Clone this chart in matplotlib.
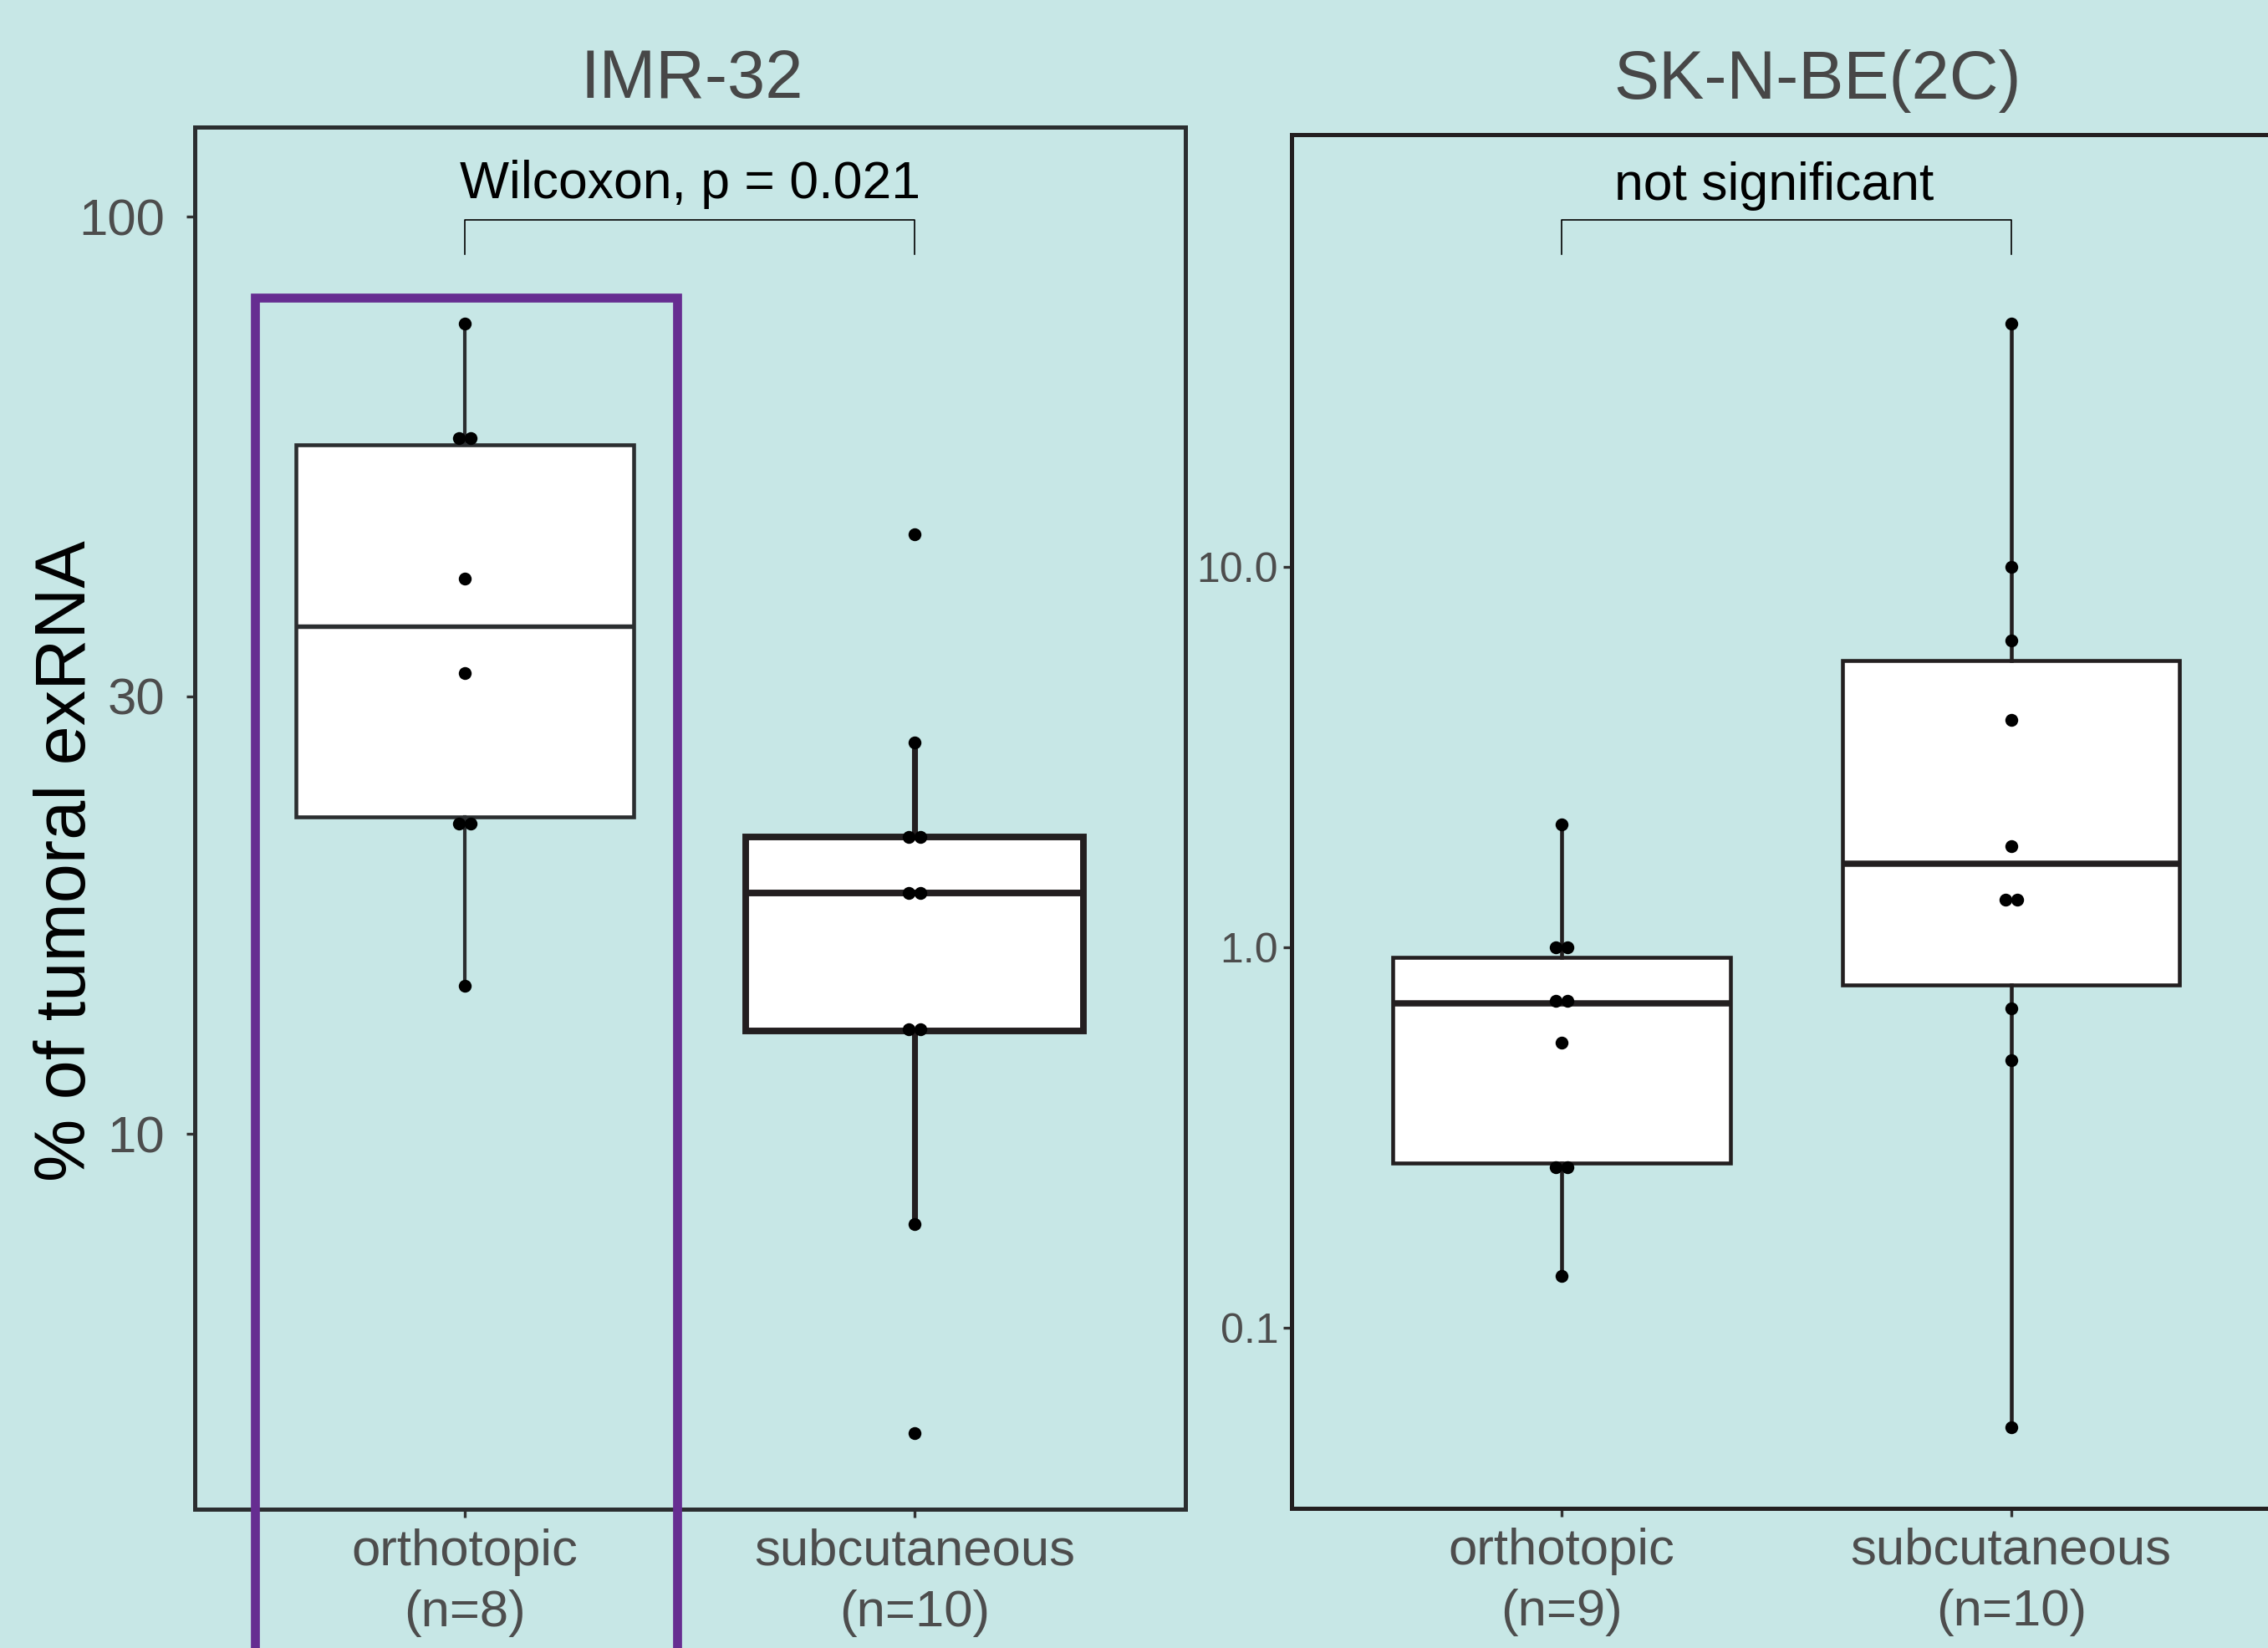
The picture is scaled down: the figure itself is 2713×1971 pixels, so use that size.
import matplotlib
matplotlib.use("Agg")
import matplotlib.pyplot as plt
import numpy as np
from matplotlib.patches import Rectangle
from matplotlib.transforms import blended_transform_factory

plt.rcParams['font.family'] = ['Liberation Sans', 'DejaVu Sans']

# ---------------- data ----------------
panel_titles = ["IMR-32", "SK-N-BE(2C)"]
categories = ["orthotopic", "subcutaneous"]
imr_tick_labels = ["orthotopic\n(n=8)", "subcutaneous\n(n=10)"]
sk_tick_labels = ["orthotopic\n(n=9)", "subcutaneous\n(n=10)"]

imr_ortho_points = [76.4, 57.4, 57.4, 40.3, 31.8, 21.8, 21.8, 14.5]
imr_subq_points = [45.1, 26.7, 21.1, 21.1, 18.3, 18.3, 13.0, 13.0, 7.98, 4.72]
sk_ortho_points = [2.105, 1.0, 1.0, 0.723, 0.723, 0.561, 0.264, 0.264, 0.137]
sk_subq_points = [43.5, 10.0, 6.40, 3.95, 1.846, 1.335, 1.335, 0.692, 0.505, 0.0547]

# box summaries: whisker low, Q1, median, Q3, whisker high
imr_ortho_box = [14.5, 22.15, 35.8, 56.35, 76.4]
imr_subq_box = [7.98, 12.94, 18.3, 21.1, 26.7]
sk_ortho_box = [0.137, 0.2713, 0.711, 0.943, 2.105]
sk_subq_box = [0.0547, 0.796, 1.662, 5.66, 43.5]

imr_yticks = [10, 30, 100]
imr_yticklabels = ["10", "30", "100"]
sk_yticks = [0.1, 1.0, 10.0]
sk_yticklabels = ["0.1", "1.0", "10.0"]

imr_annotation = "Wilcoxon, p = 0.021"
sk_annotation = "not significant"
ylabel = "% of tumoral exRNA"

# ---------------- style ----------------
BG = "#C7E7E6"
TICK_COL = "#4D4D4D"
DARK = "#2B2E30"
PURPLE = "#662D91"

W, H = 2713, 1971
DPI = 300
fig = plt.figure(figsize=(W / DPI, H / DPI), dpi=DPI, facecolor=BG)

def px2fig(x0, x1, ytop, ybot):
    return [x0 / W, 1 - ybot / H, (x1 - x0) / W, (ybot - ytop) / H]

ax1 = fig.add_axes(px2fig(232.5, 1417.5, 152, 1805))
ax2 = fig.add_axes(px2fig(1545, 2728.5, 161, 1804))


def stats(b):
    return dict(whislo=b[0], q1=b[1], med=b[2], q3=b[3], whishi=b[4], fliers=[])


def draw_box(ax, pos, b, lw_box, lw_med, lw_whisk, col):
    ax.bxp([stats(b)], positions=[pos], widths=0.75, patch_artist=True,
           showcaps=False, showfliers=False,
           boxprops=dict(facecolor="white", edgecolor=col, linewidth=lw_box),
           medianprops=dict(color=col, linewidth=lw_med),
           whiskerprops=dict(color=col, linewidth=lw_whisk),
           manage_ticks=False, zorder=3)


def draw_points(ax, pos, pts):
    pts = np.asarray(pts)
    xs = np.zeros(len(pts))
    for v in np.unique(pts):
        idx = np.where(pts == v)[0]
        m = len(idx)
        for k, i in enumerate(idx):
            xs[i] = (k - (m - 1) / 2) * 0.026
    ax.plot(pos + xs, pts, "o", ms=3.7, mew=0, color="black", zorder=6)


draw_box(ax1, 1, imr_ortho_box, 1.1, 1.3, 1.0, DARK)
draw_box(ax1, 2, imr_subq_box, 1.9, 1.9, 1.7, "#231F20")
draw_box(ax2, 1, sk_ortho_box, 1.1, 1.8, 1.1, "#231F20")
draw_box(ax2, 2, sk_subq_box, 1.1, 1.8, 1.1, "#231F20")

draw_points(ax1, 1, imr_ortho_points)
draw_points(ax1, 2, imr_subq_points)
draw_points(ax2, 1, sk_ortho_points)
draw_points(ax2, 2, sk_subq_points)

for ax, ylim, yt, ytl, xtl, spine_col, ypad, ysize in [
        (ax1, (3.90, 125.2), imr_yticks, imr_yticklabels, imr_tick_labels, DARK, 6.2, 14.8),
        (ax2, (0.0335, 136.8), sk_yticks, sk_yticklabels, sk_tick_labels, "#231F20", 1.5, 12)]:
    ax.set_facecolor(BG)
    ax.set_yscale("log")
    ax.set_ylim(*ylim)
    ax.set_xlim(0.4, 2.6)
    ax.set_yticks(yt)
    ax.set_yticklabels(ytl)
    ax.yaxis.set_minor_locator(matplotlib.ticker.NullLocator())
    ax.set_xticks([1, 2])
    ax.set_xticklabels(xtl, linespacing=1.36)
    for s in ax.spines.values():
        s.set_linewidth(1.2)
        s.set_color(spine_col)
    ax.tick_params(axis="y", which="major", labelsize=ysize, labelcolor=TICK_COL,
                   color="#333333", length=2.3, width=0.8, pad=ypad)
    ax.tick_params(axis="x", which="major", labelsize=14.8, labelcolor=TICK_COL,
                   color="#333333", length=2.3, width=0.8, pad=3.2)

# comparison brackets
for ax, yh, ye in [(ax1, 0.9326, 0.9083), (ax2, 0.9377, 0.9129)]:
    tr = blended_transform_factory(ax.transData, ax.transAxes)
    ax.plot([1, 1, 2, 2], [ye, yh, yh, ye], color="black", lw=0.4,
            transform=tr, clip_on=False, zorder=4)

fig.text(825.7 / W, 1 - 236.6 / H, imr_annotation, ha="center", va="baseline",
         fontsize=15, color="black")
fig.text(2122 / W, 1 - 239 / H, sk_annotation, ha="center", va="baseline",
         fontsize=15, color="black")

# panel titles
fig.text(827.5 / W, 1 - 117 / H, panel_titles[0], ha="center", va="baseline",
         fontsize=19.5, color="#474747")
fig.text(2174 / W, 1 - 118 / H, panel_titles[1], ha="center", va="baseline",
         fontsize=19.5, color="#474747")

# y label
fig.text(80 / W, 1 - 1030 / H, ylabel, ha="center", va="center", rotation=90,
         fontsize=20.3, color="black")

# highlight rectangle
rect = Rectangle((304.7 / W, -0.05), (809.7 - 304.7) / W, 0.05 + (1 - 356 / H),
                 transform=fig.transFigure, fill=False, edgecolor=PURPLE,
                 linewidth=2.57, zorder=10, clip_on=False)
fig.add_artist(rect)

fig.savefig("out.png", dpi=DPI, facecolor=BG)
